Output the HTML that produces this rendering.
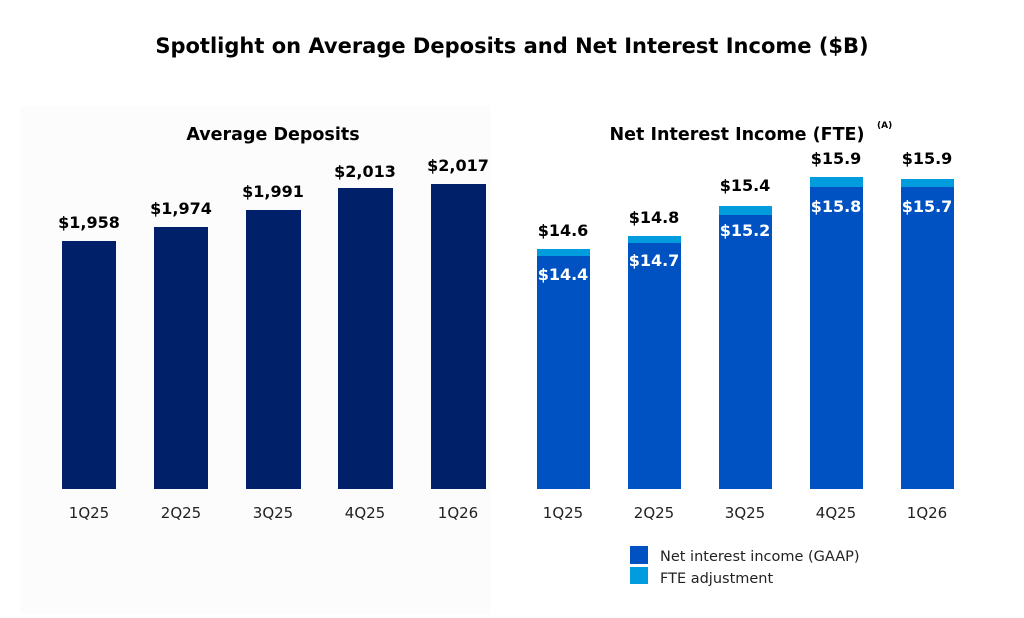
<!DOCTYPE html>
<html><head><style>
body{margin:0;width:1024px;height:614px;background:#fff;font-family:"DejaVu Sans","Liberation Sans",sans-serif;overflow:hidden}
</style></head><body>
<svg width="1024" height="614" xmlns="http://www.w3.org/2000/svg" font-family="DejaVu Sans, Liberation Sans, sans-serif">
<rect x="20" y="106" width="470" height="508" fill="#fcfcfc"/>
<text x="512" y="53" text-anchor="middle" font-size="21" font-weight="bold" fill="#000">Spotlight on Average Deposits and Net Interest Income ($B)</text>
<text x="273" y="140" text-anchor="middle" font-size="17.5" font-weight="bold" fill="#000">Average Deposits</text>
<text x="737" y="140" text-anchor="middle" font-size="17.5" font-weight="bold" fill="#000">Net Interest Income (FTE)</text>
<text x="877" y="128" font-size="9" font-weight="bold" fill="#000">(A)</text>
<g fill="#002169">
<rect x="62" y="241" width="54" height="248"/>
<rect x="154" y="227" width="54" height="262"/>
<rect x="246" y="210" width="55" height="279"/>
<rect x="338" y="188" width="55" height="301"/>
<rect x="431" y="184" width="55" height="305"/>
</g>
<g font-size="16" font-weight="bold" text-anchor="middle" fill="#000">
<text x="89" y="228">$1,958</text>
<text x="181" y="214">$1,974</text>
<text x="273" y="197">$1,991</text>
<text x="365" y="177">$2,013</text>
<text x="458" y="171">$2,017</text>
<text x="563" y="236">$14.6</text>
<text x="654" y="223">$14.8</text>
<text x="745" y="191">$15.4</text>
<text x="836" y="164">$15.9</text>
<text x="927" y="164">$15.9</text>
</g>
<g fill="#009cde">
<rect x="537" y="249" width="53" height="240"/>
<rect x="628" y="236" width="53" height="253"/>
<rect x="719" y="206" width="53" height="283"/>
<rect x="810" y="177" width="53" height="312"/>
<rect x="901" y="179" width="53" height="310"/>
</g>
<g fill="#0052c2">
<rect x="537" y="256" width="53" height="233"/>
<rect x="628" y="243" width="53" height="246"/>
<rect x="719" y="215" width="53" height="274"/>
<rect x="810" y="187" width="53" height="302"/>
<rect x="901" y="187" width="53" height="302"/>
</g>
<g font-size="16" font-weight="bold" text-anchor="middle" fill="#fff">
<text x="563" y="280">$14.4</text>
<text x="654" y="266">$14.7</text>
<text x="745" y="236">$15.2</text>
<text x="836" y="212">$15.8</text>
<text x="927" y="212">$15.7</text>
</g>
<g font-size="15" text-anchor="middle" fill="#222">
<text x="89" y="518">1Q25</text>
<text x="181" y="518">2Q25</text>
<text x="273" y="518">3Q25</text>
<text x="365" y="518">4Q25</text>
<text x="458" y="518">1Q26</text>
<text x="563" y="518">1Q25</text>
<text x="654" y="518">2Q25</text>
<text x="745" y="518">3Q25</text>
<text x="836" y="518">4Q25</text>
<text x="927" y="518">1Q26</text>
</g>
<rect x="630" y="546" width="18" height="18" fill="#0052c2"/>
<rect x="630" y="567" width="18" height="17" fill="#009cde"/>
<g font-size="14.5" fill="#222">
<text x="660" y="561">Net interest income (GAAP)</text>
<text x="660" y="583">FTE adjustment</text>
</g>
</svg>
</body></html>
